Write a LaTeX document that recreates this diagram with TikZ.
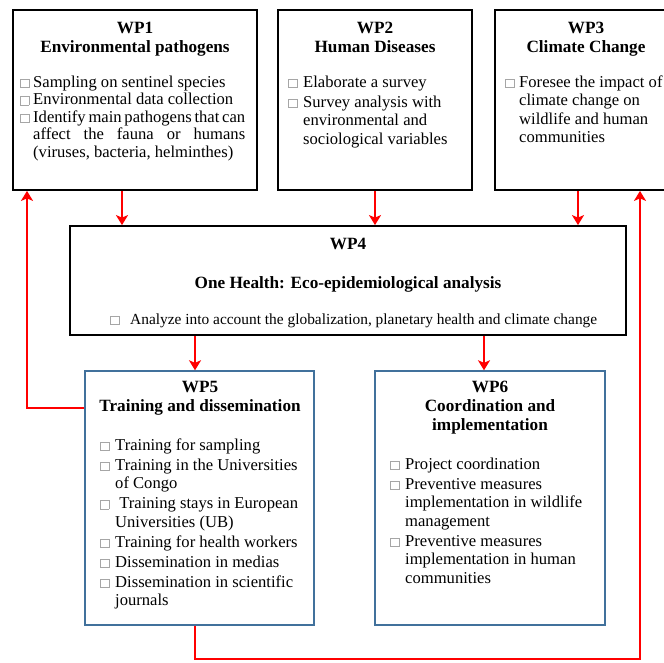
\documentclass[tikz,border=0pt]{standalone}
\usepackage{fontspec}
\setmainfont{Liberation Serif}
\usetikzlibrary{arrows.meta,positioning,calc}
\definecolor{wpred}{HTML}{FF0000}
\definecolor{wpblue}{HTML}{41719C}
\definecolor{bulgray}{HTML}{A6A6A6}
% bullet square and hanging indent
\newcommand{\bul}{{\color{bulgray}\fboxsep=0pt\fboxrule=0.6pt\fbox{\rule{0pt}{8pt}\rule{8pt}{0pt}}}}
\newcommand{\itm}[1][15pt]{\makebox[#1][l]{\bul}}
\newcommand{\cnt}[1][15pt]{\hspace*{#1}}
\newcommand{\tp}{\rule{0pt}{13pt}}

\begin{document}
\begin{tikzpicture}[x=1pt,y=-1pt,
    wpbox/.style={draw=black,line width=1.8pt,inner sep=0pt},
    wpbluebox/.style={draw=wpblue,line width=1.4pt,inner sep=0pt},
    title/.style={font=\bfseries\fontsize{17.2}{19}\selectfont,align=center,inner sep=0pt,anchor=north},
    body/.style={font=\fontsize{16.6}{18.5}\selectfont,align=left,inner sep=0pt,anchor=north west},
    arr/.style={-{Stealth[length=10pt,width=12pt,inset=2.5pt]},wpred,line width=2.6pt}]
  \useasboundingbox (0,0) rectangle (664,662);
  % work package boxes
  \node[wpbox,minimum width=244pt,minimum height=180pt] (wp1) at (135,100) {};
  \node[wpbox,minimum width=194pt,minimum height=180pt] (wp2) at (375,100) {};
  \node[wpbox,minimum width=182pt,minimum height=180pt] (wp3) at (586,100) {};
  \node[wpbox,minimum width=556pt,minimum height=109pt] (wp4) at (348,280.5) {};
  \node[wpbluebox,minimum width=229pt,minimum height=254pt] (wp5) at (199.5,498) {};
  \node[wpbluebox,minimum width=230pt,minimum height=254pt] (wp6) at (490,498) {};
  % titles
  \node[title] (t1) at (135,20) {\tp WP1\\Environmental pathogens};
  \node[title] (t2) at (375,20) {\tp WP2\\Human Diseases};
  \node[title] (t3) at (586,20) {\tp WP3\\Climate Change};
  \node[title] (t4) at (348,236) {\tp WP4\\[20pt]One Health: Eco-epidemiological analysis};
  \node[title] (t5) at (200,379) {\tp WP5\\Training and dissemination};
  \node[title] (t6) at (490,379) {\tp WP6\\Coordination and\\implementation};
  % task lists
  \node[body,font=\fontsize{16.6}{17.5}\selectfont] (b1) at (20,74) {\tp\itm[13pt]Sampling on sentinel species\\
    \itm[13pt]Environmental data collection\\
    \itm[13pt]\makebox[212pt][s]{Identify main pathogens that can}\\
    \cnt[13pt]\makebox[212pt][s]{affect the fauna or humans}\\
    \cnt[13pt](viruses, bacteria, helminthes)};
  \node[body] (b2) at (288,74) {\tp\itm Elaborate a survey\\[1.5pt]
    \itm Survey analysis with\\
    \cnt environmental and\\
    \cnt sociological variables};
  \node[body] (b3) at (505,74) {\tp\itm[14pt]Foresee the impact of\\
    \cnt[14pt]climate change on\\
    \cnt[14pt]wildlife and human\\
    \cnt[14pt]communities};
  \node[body,font=\fontsize{15.4}{17}\selectfont] (b4) at (110,311) {\tp\itm[20pt]Analyze into account the globalization, planetary health and climate change};
  \node[body] (b5) at (100,437) {\tp\itm Training for sampling\\[1.5pt]
    \itm Training in the Universities\\
    \cnt of Congo\\[1.5pt]
    \itm\ Training stays in European\\
    \cnt Universities (UB)\\[1.5pt]
    \itm Training for health workers\\[1.5pt]
    \itm Dissemination in medias\\[1.5pt]
    \itm Dissemination in scientific\\
    \cnt journals};
  \node[body] (b6) at (390,456) {\tp\itm Project coordination\\[1.5pt]
    \itm Preventive measures\\
    \cnt implementation in wildlife\\
    \cnt management\\[1.5pt]
    \itm Preventive measures\\
    \cnt implementation in human\\
    \cnt communities};
  % links
  \draw[arr] ([xshift=-13pt]wp1.south) -- ([xshift=-13pt]wp1.south |- wp4.north);
  \draw[arr] (wp2.south) -- (wp2.south |- wp4.north);
  \draw[arr] ([xshift=-8pt]wp3.south) -- ([xshift=-8pt]wp3.south |- wp4.north);
  \draw[arr] ([xshift=-4.5pt]wp5.north |- wp4.south) -- ([xshift=-4.5pt]wp5.north);
  \draw[arr] ([xshift=-6pt]wp6.north |- wp4.south) -- ([xshift=-6pt]wp6.north);
  \draw[arr] ([yshift=90pt]wp5.west) -| ([xshift=-108pt]wp1.south);
  \coordinate (low) at (0,659);
  \draw[arr] ([xshift=-4.5pt]wp5.south) -- ([xshift=-4.5pt]wp5.south |- low) -| ([xshift=54pt]wp3.south);
\end{tikzpicture}
\end{document}
